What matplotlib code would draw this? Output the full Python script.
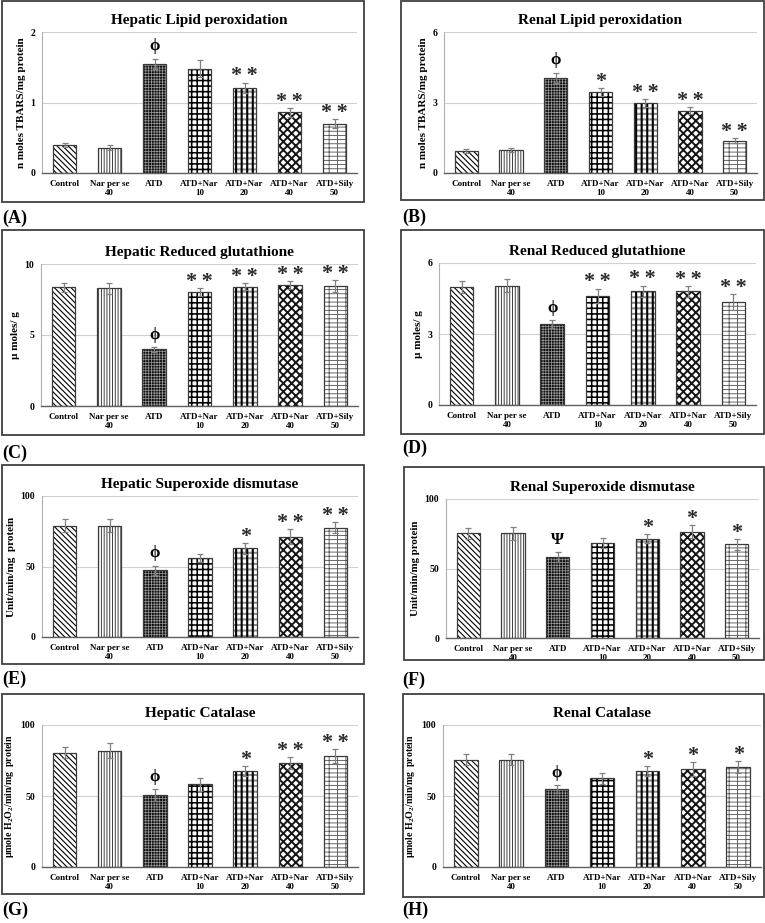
import matplotlib
matplotlib.use('Agg')
import matplotlib.pyplot as plt
from matplotlib.patches import Rectangle
import numpy as np

plt.rcParams['font.family'] = ['Liberation Serif', 'DejaVu Serif']
plt.rcParams['font.weight'] = 'bold'
plt.rcParams['mathtext.fontset'] = 'custom'
plt.rcParams['mathtext.rm'] = 'Liberation Serif:bold'
plt.rcParams['mathtext.bf'] = 'Liberation Serif:bold'
plt.rcParams['mathtext.it'] = 'Liberation Serif:bold:italic'

# ---------------- data ----------------
categories = ['Control', 'Nar per se\n40', 'ATD', 'ATD+Nar\n10',
              'ATD+Nar\n20', 'ATD+Nar\n40', 'ATD+Sily\n50']

titles = ['Hepatic Lipid peroxidation', 'Renal Lipid peroxidation',
          'Hepatic Reduced glutathione', 'Renal Reduced glutathione',
          'Hepatic Superoxide dismutase', 'Renal Superoxide dismutase',
          'Hepatic Catalase', 'Renal Catalase']
ylabels = ['n moles TBARS/mg protein', 'n moles TBARS/mg protein',
           'µ moles/ g', 'µ moles/ g',
           'Unit/min/mg  protein', 'Unit/min/mg protein',
           'µmole H$_\\mathrm{2}$O$_\\mathrm{2}$/min/mg  protein',
           'µmole H$_\\mathrm{2}$O$_\\mathrm{2}$/min/mg  protein']
panel_letters = ['(A)', '(B)', '(C)', '(D)', '(E)', '(F)', '(G)', '(H)']
yticks_lpo_hep = [0, 1, 2]
yticks_lpo_ren = [0, 3, 6]
yticks_gsh_hep = [0, 5, 10]
yticks_gsh_ren = [0, 3, 6]
yticks_enz = [0, 50, 100]

hep_lpo = [0.40, 0.36, 1.55, 1.48, 1.21, 0.86, 0.70]
hep_lpo_err = [0.03, 0.04, 0.07, 0.12, 0.07, 0.06, 0.06]
hep_lpo_sig = ['', '', 'ϕ', '', '**', '**', '**']

ren_lpo = [0.93, 0.98, 4.06, 3.43, 2.98, 2.65, 1.38]
ren_lpo_err = [0.08, 0.09, 0.21, 0.17, 0.17, 0.14, 0.09]
ren_lpo_sig = ['', '', 'ϕ', '*', '**', '**', '**']

hep_gsh = [8.35, 8.28, 3.98, 8.00, 8.40, 8.52, 8.45]
hep_gsh_err = [0.29, 0.36, 0.18, 0.28, 0.24, 0.28, 0.42]
hep_gsh_sig = ['', '', 'ϕ', '**', '**', '**', '**']

ren_gsh = [4.99, 5.04, 3.42, 4.60, 4.80, 4.80, 4.35]
ren_gsh_err = [0.27, 0.27, 0.17, 0.31, 0.24, 0.23, 0.34]
ren_gsh_sig = ['', '', 'ϕ', '**', '**', '**', '**']

hep_sod = [78.9, 78.9, 47.2, 56.2, 62.8, 71.1, 77.5]
hep_sod_err = [4.5, 4.5, 3.5, 3.0, 3.6, 5.2, 3.8]
hep_sod_sig = ['', '', 'ϕ', '', '*', '**', '**']

ren_sod = [75.2, 75.2, 58.4, 68.5, 71.4, 76.4, 67.3]
ren_sod_err = [4.1, 4.8, 3.4, 3.6, 3.4, 4.6, 3.9]
ren_sod_sig = ['', '', 'Ψ', '', '*', '*', '*']

hep_cat = [80.6, 82.0, 50.6, 58.1, 67.4, 73.1, 78.0]
hep_cat_err = [3.7, 5.1, 4.0, 4.4, 3.5, 4.4, 4.9]
hep_cat_sig = ['', '', 'ϕ', '', '*', '**', '**']

ren_cat = [75.6, 75.6, 54.6, 62.5, 67.4, 69.1, 70.5]
ren_cat_err = [4.0, 4.0, 2.8, 3.8, 3.5, 4.7, 4.2]
ren_cat_sig = ['', '', 'ϕ', '', '*', '*', '*']

values = [hep_lpo, ren_lpo, hep_gsh, ren_gsh, hep_sod, ren_sod, hep_cat, ren_cat]
errors = [hep_lpo_err, ren_lpo_err, hep_gsh_err, ren_gsh_err,
          hep_sod_err, ren_sod_err, hep_cat_err, ren_cat_err]
sigs = [hep_lpo_sig, ren_lpo_sig, hep_gsh_sig, ren_gsh_sig,
        hep_sod_sig, ren_sod_sig, hep_cat_sig, ren_cat_sig]
yticks = [yticks_lpo_hep, yticks_lpo_ren, yticks_gsh_hep, yticks_gsh_ren,
          yticks_enz, yticks_enz, yticks_enz, yticks_enz]

# ---------------- layout (pixels) ----------------
W, H = 765, 923
axes_px = [(42, 357, 173, 32), (444, 757, 173, 32),
           (41, 358, 406, 264), (439, 756, 405, 263),
           (42, 358, 637, 496), (446, 759, 638, 499),
           (42, 358, 867, 725), (443, 761, 867, 725)]
box_px = [(2, 364, 1, 202), (401, 764, 1, 200),
          (2, 364, 230, 435), (401, 764, 230, 434),
          (2, 364, 465, 664), (404, 764, 467, 660),
          (2, 364, 694, 894), (403, 764, 694, 897)]
letter_px = [(2, 218), (402, 217), (2, 453), (402, 448),
             (2, 679), (402, 680), (2, 910), (402, 910)]
ylabel_size = [8, 8, 8, 8, 8, 7.8, 7.1, 7.1]

# hatch layers per group: (face, hatch colour, hatch, hatch linewidth)
styles = [
    [('white', 'black', '\\' * 6, 0.8)],
    [('white', '#303030', '|' * 6, 0.65)],
    [('#101010', '#9a9a9a', '+' * 6, 0.5)],
    [('white', 'black', '+' * 3, 1.15)],
    [('white', '#8c8c8c', '-' * 3, 1.5), ('none', 'black', '|' * 3, 1.5)],
    [('white', '#151515', 'x' * 4, 1.4)],
    [('white', '#5a5a5a', '-' * 4 + '|' * 2, 0.65)],
]

fig = plt.figure(figsize=(W / 100, H / 100), dpi=100)

for i in range(8):
    bx0, bx1, bt, bb = box_px[i]
    fig.patches.append(Rectangle((bx0 / W, 1 - bb / H), (bx1 - bx0) / W, (bb - bt) / H,
                                 transform=fig.transFigure, fill=False,
                                 edgecolor='#404040', linewidth=1.3))
    x0, x1, y0, y1 = axes_px[i]
    ax = fig.add_axes([x0 / W, 1 - y0 / H, (x1 - x0) / W, (y0 - y1) / H])
    vals = values[i]
    errs = errors[i]
    xs = np.arange(len(categories))
    for j in range(len(categories)):
        for face, hc, hatch, hlw in styles[j]:
            b = ax.bar(xs[j], vals[j], width=0.52, color=face, edgecolor=hc,
                       hatch=hatch, linewidth=0, zorder=2)
            for p in b.patches:
                if hasattr(p, 'set_hatch_linewidth'):
                    p.set_hatch_linewidth(hlw)
        ax.bar(xs[j], vals[j], width=0.52, fill=False, edgecolor='#3a3a3a',
               linewidth=0.9, zorder=3)
    ax.errorbar(xs, vals, yerr=errs, fmt='none', ecolor='#808080',
                elinewidth=0.9, capsize=2.2, capthick=0.9, zorder=4)
    yt = yticks[i]
    ax.set_ylim(0, yt[-1])
    ax.set_xlim(-0.5, len(categories) - 0.5)
    ax.set_yticks(yt)
    ax.set_yticklabels([str(v) for v in yt], fontsize=7, fontweight='bold')
    ax.set_xticks(xs)
    ax.set_xticklabels(categories, fontsize=6.5, fontweight='bold', linespacing=1.25)
    ax.tick_params(length=0, pad=5)
    ax.tick_params(axis='x', pad=5)
    ax.grid(axis='y', color='#d0d0d0', linewidth=0.8, zorder=0)
    ax.set_axisbelow(True)
    for s in ['top', 'right']:
        ax.spines[s].set_visible(False)
    ax.spines['left'].set_color('#b0b0b0')
    ax.spines['left'].set_linewidth(0.8)
    ax.spines['bottom'].set_color('#606060')
    ax.spines['bottom'].set_linewidth(1.0)
    ax.set_title(titles[i], fontsize=11, fontweight='bold', pad=6)
    ax.set_ylabel(ylabels[i], fontsize=ylabel_size[i], fontweight='bold', labelpad=3)
    for j, s in enumerate(sigs[i]):
        if not s:
            continue
        top = vals[j] + errs[j]
        if '*' in s:
            txt = '*\u2009*' if s == '**' else s
            ax.annotate(txt, (xs[j], top), xytext=(0, 1), textcoords='offset points',
                        ha='center', va='baseline', fontsize=16, color='#2a2a2a')
        else:
            ax.annotate(s, (xs[j], top), xytext=(0, 6), textcoords='offset points',
                        ha='center', va='baseline', fontsize=12, fontweight='bold',
                        color='black')
    lx, ly = letter_px[i]
    fig.text(lx / W, 1 - ly / H, panel_letters[i], fontsize=13, fontweight='bold',
             ha='left', va='center')

fig.savefig('out.png', dpi=100)
